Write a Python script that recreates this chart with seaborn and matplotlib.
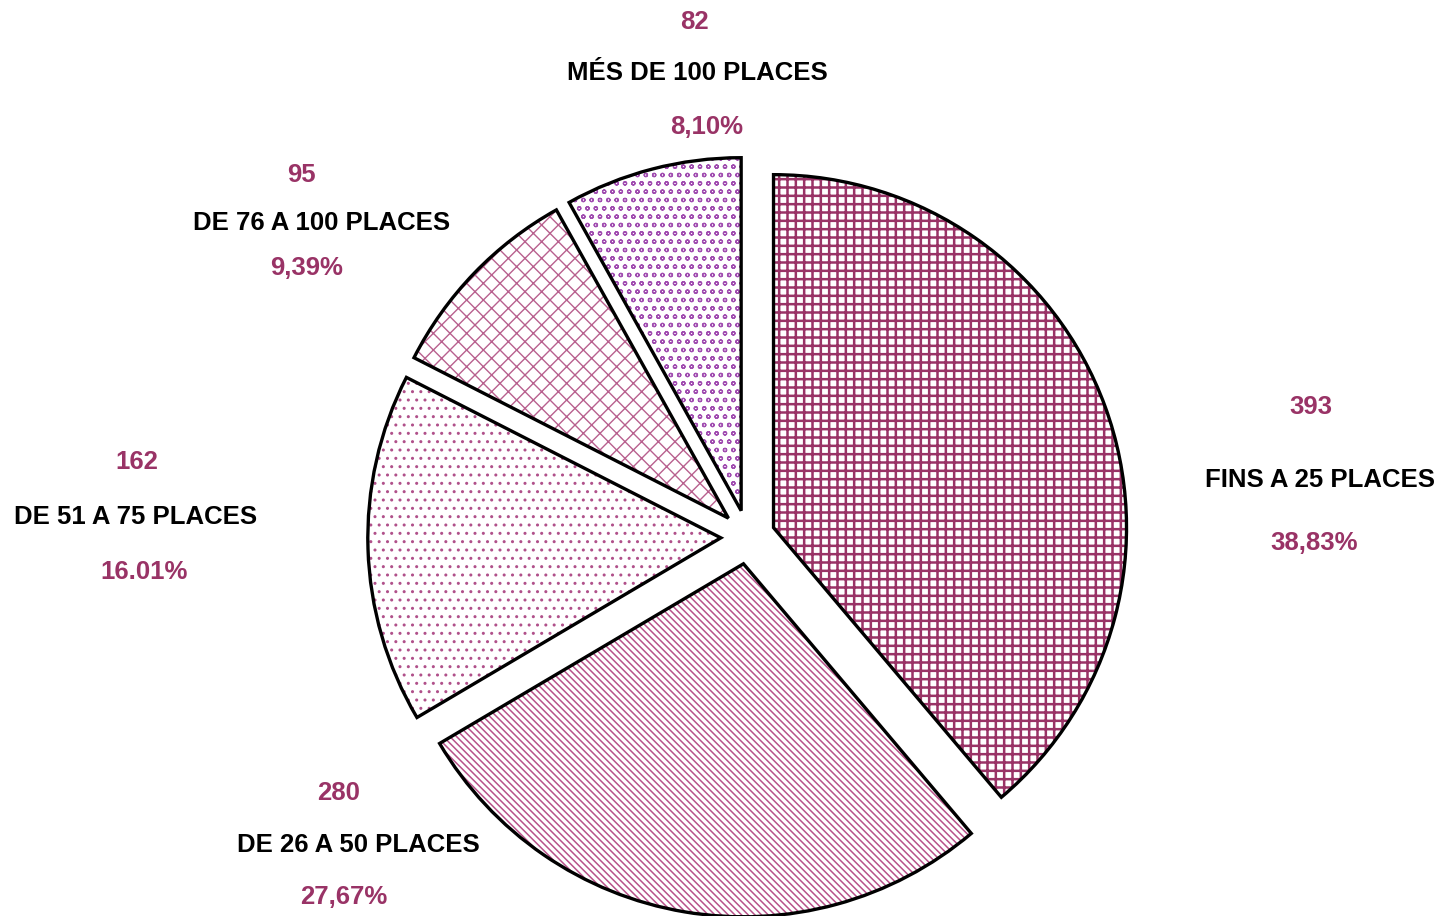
import matplotlib
matplotlib.use("Agg")
import matplotlib.pyplot as plt
import seaborn as sns

# ======================
# DATA
# ======================
categories = ["FINS A 25 PLACES", "DE 26 A 50 PLACES", "DE 51 A 75 PLACES",
              "DE 76 A 100 PLACES", "MÉS DE 100 PLACES"]
counts = [393, 280, 162, 95, 82]
pct_labels = ["38,83%", "27,67%", "16.01%", "9,39%", "8,10%"]

# ======================
# STYLE
# ======================
sns.set_theme(style="white")
plt.rcParams["font.family"] = ["Liberation Sans", "DejaVu Sans"]

W, H = 1440, 916
CX, CY, R = 748, 537, 353          # pie centre / radius in pixels
PURPLE = "#993366"

hatches = ["++", "\\\\\\\\\\", "..", "xx", "oo"]
hatch_colors = ["#993366", "#b8528a", "#b0508a", "#b8608e", "#a04cb0"]
hatch_widths = [1.8, 1.1, 1.0, 1.0, 0.9]

# label positions: (x, y) in pixels for count / name / percentage lines
label_pos = [
    ((1311, 407), (1320, 480), (1314, 543)),
    ((339, 793), (358, 845), (344, 897)),
    ((137, 462), (136, 517), (144, 572)),
    ((301, 175), (322, 223), (307, 268)),
    ((694, 22), (697, 73), (707, 127)),
]

fig = plt.figure(figsize=(W / 100, H / 100), dpi=100)
lim = 1.1
side = 2 * lim * R
ax = fig.add_axes([(CX - side / 2) / W, (H - CY - side / 2) / H, side / W, side / H])

explode = [0.077] * len(counts)

# hatched fill (hatch takes the edge colour)
wedges, _ = ax.pie(counts, startangle=90, counterclock=False, explode=explode,
                   radius=1, frame=False, normalize=True,
                   wedgeprops=dict(facecolor="white", linewidth=0))
for w, hc, hw, ht in zip(wedges, hatch_colors, hatch_widths, hatches):
    w.set_hatch(ht)
    w.set_edgecolor(hc)
    if hasattr(w, "set_hatch_linewidth"):
        w.set_hatch_linewidth(hw)

# black outlines on top
ax.pie(counts, startangle=90, counterclock=False, explode=explode,
       radius=1, frame=False, normalize=True,
       wedgeprops=dict(fill=False, edgecolor="black", linewidth=2.4))
ax.set_xlim(-lim, lim)
ax.set_ylim(-lim, lim)
ax.set_aspect("auto")
ax.axis("off")

# ======================
# LABELS
# ======================
for name, n, pct, pos in zip(categories, counts, pct_labels, label_pos):
    for txt, (x, y), col in zip((str(n), name, pct), pos, (PURPLE, "black", PURPLE)):
        fig.text(x / W, 1 - y / H, txt, ha="center", va="center",
                 fontsize=18.5, fontweight="bold", color=col)

plt.savefig("out.png", dpi=100)
plt.close()
